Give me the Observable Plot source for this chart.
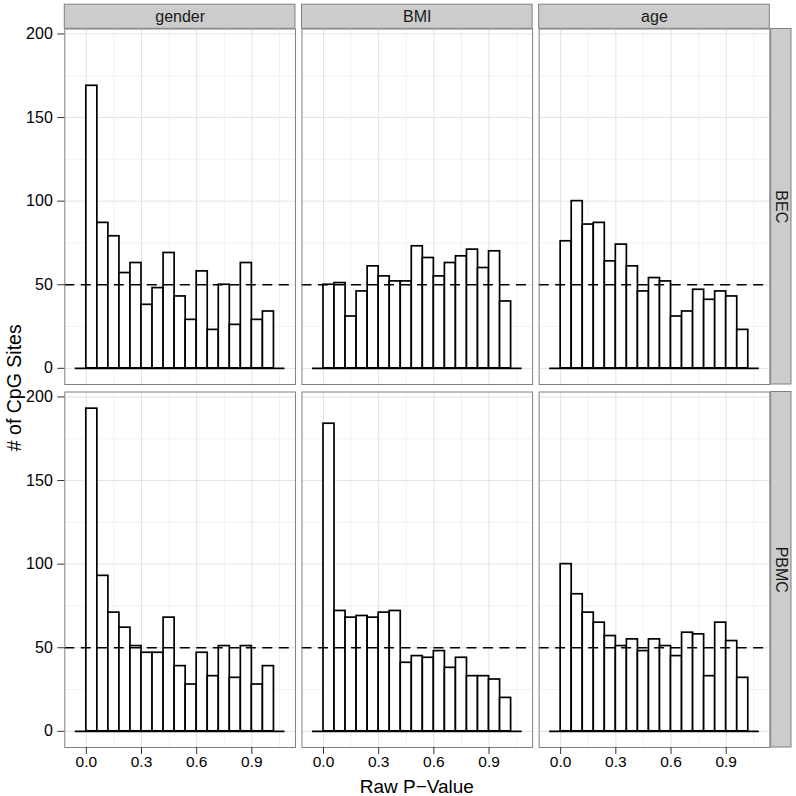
<!DOCTYPE html>
<html>
<head>
<meta charset="utf-8">
<script src="https://cdn.jsdelivr.net/npm/d3@7"></script>
<script src="https://cdn.jsdelivr.net/npm/@observablehq/plot@0.6"></script>
<style>html,body{margin:0;padding:0;background:#fff;}</style>
</head>
<body>
<div id="chart"></div>
<script>
// ---- data ----
const variables = ["gender", "BMI", "age"];
const tissues = ["BEC", "PBMC"];
const binLeft = [0.00, 0.06, 0.12, 0.18, 0.24, 0.30, 0.36, 0.42, 0.48, 0.54, 0.60, 0.66, 0.72, 0.78, 0.84, 0.90, 0.96];
const binWidth = 0.06;
const becGender  = [169, 87, 79, 57, 63, 38, 48, 69, 43, 29, 58, 23, 50, 26, 63, 29, 34];
const becBMI     = [50, 51, 31, 46, 61, 55, 52, 52, 73, 66, 55, 63, 67, 71, 60, 70, 40];
const becAge     = [76, 100, 86, 87, 64, 74, 61, 46, 54, 52, 31, 34, 47, 41, 46, 43, 23];
const pbmcGender = [193, 93, 71, 62, 51, 47, 47, 68, 39, 28, 47, 33, 51, 32, 51, 28, 39];
const pbmcBMI    = [184, 72, 68, 69, 68, 71, 72, 41, 45, 44, 48, 38, 44, 33, 33, 31, 20];
const pbmcAge    = [100, 82, 71, 65, 57, 51, 55, 48, 55, 51, 45, 59, 58, 33, 65, 54, 32];
const baselineExtent = [-0.06, 1.08];
const referenceLine = 50;
const xTicks = [0, 0.3, 0.6, 0.9];
const xMinor = [0.15, 0.45, 0.75, 1.05];
const yTicks = [0, 50, 100, 150, 200];
const yMinor = [25, 75, 125, 175];
const xLabel = "Raw P\u2212Value";
const yLabel = "# of CpG Sites";

const series = {
  BEC: {gender: becGender, BMI: becBMI, age: becAge},
  PBMC: {gender: pbmcGender, BMI: pbmcBMI, age: pbmcAge}
};
const bars = [];
for (const t of tissues) for (const v of variables)
  series[t][v].forEach((c, i) => bars.push({tissue: t, variable: v, x1: binLeft[i], x2: binLeft[i] + binWidth, count: c}));

// ---- layout ----
const W = 796, H = 796;
const mL = 64.3, mR = 26.7, mT = 28.5, mB = 49;
const colGap = 6.5, rowGap = 7.5;
const colW = (W - mL - mR - 2 * colGap) / 3;
const rowH = (H - mT - mB - rowGap) / 2;
const xDom = [-0.117, 1.137];
const yDom = [-9.67, 202.97];
const kx = colW / (xDom[1] - xDom[0]);
const ky = rowH / (yDom[1] - yDom[0]);
const fxPad = colGap / (colGap + colW);
const fyPad = rowGap / (rowGap + rowH);

const topStrips = variables.map(v => ({variable: v, tissue: tissues[0]}));
const sideStrips = tissues.map(t => ({tissue: t, variable: variables[variables.length - 1]}));
const stripTop = yDom[1] + 24.3 / ky;
const stripMidY = yDom[1] + 12.35 / ky;
const sideX1 = xDom[1] + 1.4 / kx, sideX2 = xDom[1] + 21.7 / kx;
const sideMidX = (sideX1 + sideX2) / 2;
const midX = (xDom[0] + xDom[1]) / 2;
const midY = (yDom[0] + yDom[1]) / 2;

const chart = Plot.plot({
  width: W, height: H,
  marginLeft: mL, marginRight: mR, marginTop: mT, marginBottom: mB,
  style: "font-family: 'Liberation Sans', Arial, Helvetica, sans-serif; font-size: 16px; background: #fff; overflow: visible;",
  fx: {domain: variables, axis: null, paddingInner: fxPad, paddingOuter: 0, round: false},
  fy: {domain: tissues, axis: null, paddingInner: fyPad, paddingOuter: 0, round: false},
  x: {domain: xDom, axis: null},
  y: {domain: yDom, axis: null},
  marks: [
    // strips
    Plot.rect(topStrips, {fx: "variable", fy: "tissue", x1: xDom[0], x2: xDom[1], y1: yDom[1] + 0.12, y2: stripTop, fill: "#cccccc", stroke: "#808080", strokeWidth: 1}),
    Plot.text(topStrips, {fx: "variable", fy: "tissue", x: midX, y: stripMidY, text: "variable", fontSize: 16, fill: "#1a1a1a", lineAnchor: "middle"}),
    Plot.rect(sideStrips, {fx: "variable", fy: "tissue", x1: sideX1, x2: sideX2, y1: yDom[0], y2: yDom[1], fill: "#cccccc", stroke: "#808080", strokeWidth: 1}),
    Plot.text(sideStrips, {fx: "variable", fy: "tissue", x: sideMidX, y: midY, text: "tissue", rotate: 90, fontSize: 16, fill: "#1a1a1a", lineAnchor: "middle"}),
    // grid
    Plot.ruleY(yMinor, {stroke: "#f2f2f2", strokeWidth: 1}),
    Plot.ruleX(xMinor, {stroke: "#f2f2f2", strokeWidth: 1}),
    Plot.ruleY(yTicks, {stroke: "#e3e3e3", strokeWidth: 1}),
    Plot.ruleX(xTicks, {stroke: "#e3e3e3", strokeWidth: 1}),
    // histogram bars
    Plot.rect(bars, {fx: "variable", fy: "tissue", x1: "x1", x2: "x2", y1: 0, y2: "count", fill: "white", stroke: "black", strokeWidth: 1.7}),
    Plot.ruleY([0], {x1: baselineExtent[0], x2: baselineExtent[1], stroke: "black", strokeWidth: 1.7}),
    Plot.ruleY([referenceLine], {stroke: "black", strokeWidth: 1.7, strokeDasharray: "10,6.5"}),
    Plot.frame({stroke: "#808080", strokeWidth: 1}),
    // axes
    Plot.axisY(yTicks, {anchor: "left", tickSize: 7, tickPadding: 5, fontSize: 16, label: null, stroke: "#333"}),
    Plot.axisX(xTicks, {anchor: "bottom", tickSize: 7, tickPadding: 1, fontSize: 15.5, label: null, tickFormat: d => d.toFixed(1), stroke: "#333"})
  ]
});

const svg = d3.select(chart);
svg.append("text")
  .attr("x", (mL + W - mR) / 2).attr("y", 792.5)
  .attr("text-anchor", "middle")
  .attr("font-size", 19).attr("fill", "#000")
  .text(xLabel);
svg.append("text")
  .attr("transform", `translate(20.5,${mT + (H - mT - mB) / 2}) rotate(-90)`)
  .attr("text-anchor", "middle")
  .attr("font-size", 19.5).attr("fill", "#000")
  .text(yLabel);

document.getElementById("chart").appendChild(chart);
</script>
</body>
</html>
